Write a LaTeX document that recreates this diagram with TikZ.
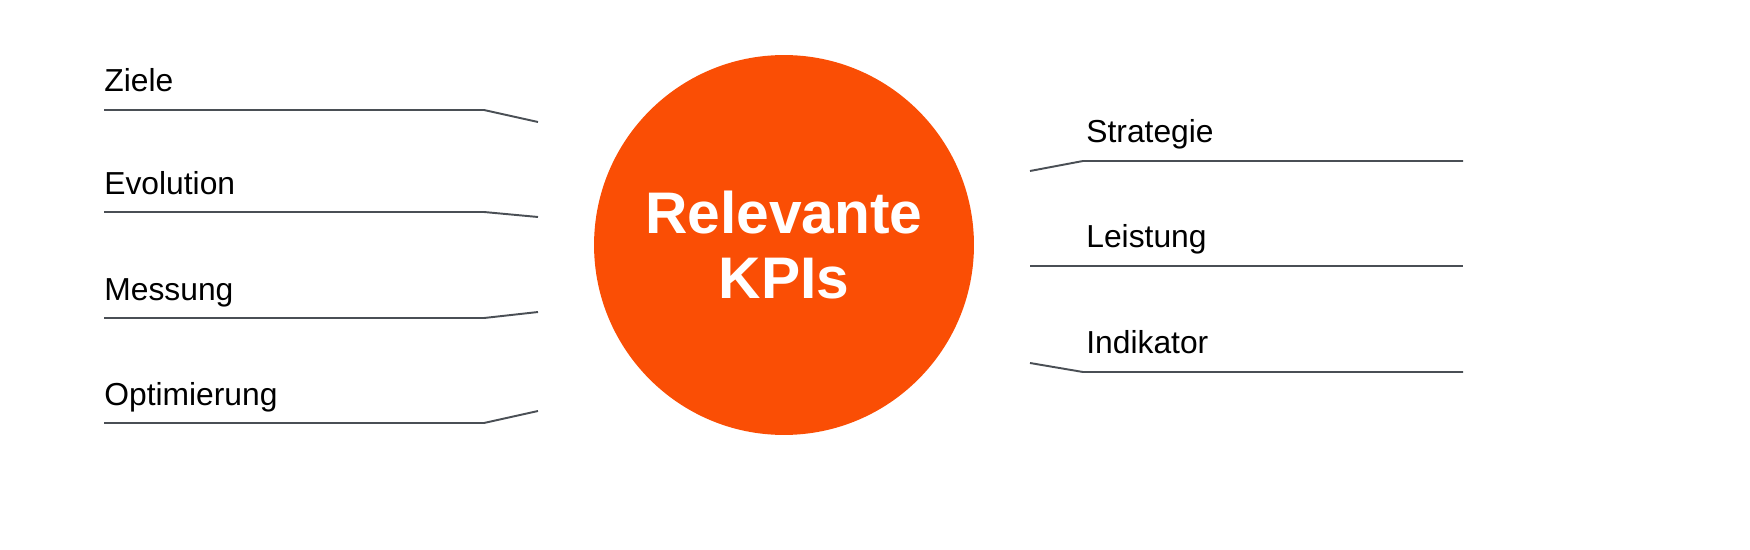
\documentclass[tikz,border=0pt]{standalone}
\usepackage{fontspec}
\setmainfont{Liberation Sans}
\definecolor{kpiorange}{HTML}{FA4E05}
\definecolor{kpiline}{HTML}{4A4F55}

\begin{document}
\begin{tikzpicture}
  [x=0.02cm,y=-0.02cm,
   lbl/.style={anchor=base west,inner sep=0pt,font=\fontsize{18.1}{21}\selectfont},
   ln/.style={draw=kpiline,line width=1.1pt},
   kpi/.style={circle,fill=kpiorange,minimum size=7.6cm,inner sep=0pt,text=white,align=center,
     font=\fontsize{33.4}{36.9}\selectfont\bfseries}]
  \useasboundingbox (0,0) rectangle (1750,550);

  \node[kpi] (c) at (784,245) {Relevante\\KPIs};

  % left side
  \node[lbl] (n1) at (104,92)  {Ziele};
  \node[lbl] (n2) at (104,195) {Evolution};
  \node[lbl] (n3) at (104,300) {Messung};
  \node[lbl] (n4) at (104,405) {Optimierung};
  \coordinate (a1) at (104,110); \coordinate (k1) at (484,110); \coordinate (e1) at (538,122);
  \coordinate (a2) at (104,212); \coordinate (k2) at (484,212); \coordinate (e2) at (538,217);
  \coordinate (a3) at (104,318); \coordinate (k3) at (484,318); \coordinate (e3) at (538,312);
  \coordinate (a4) at (104,423); \coordinate (k4) at (484,423); \coordinate (e4) at (538,411);
  \draw[ln] (a1) -- (k1) -- (e1);
  \draw[ln] (a2) -- (k2) -- (e2);
  \draw[ln] (a3) -- (k3) -- (e3);
  \draw[ln] (a4) -- (k4) -- (e4);

  % right side
  \node[lbl] (n5) at (1086,143) {Strategie};
  \node[lbl] (n6) at (1086,248) {Leistung};
  \node[lbl] (n7) at (1086,354) {Indikator};
  \coordinate (s5) at (1030,171); \coordinate (k5) at (1083,161); \coordinate (b5) at (1463,161);
  \coordinate (s6) at (1030,266); \coordinate (k6) at (1083,266); \coordinate (b6) at (1463,266);
  \coordinate (s7) at (1030,363); \coordinate (k7) at (1083,372); \coordinate (b7) at (1463,372);
  \draw[ln] (s5) -- (k5) -- (b5);
  \draw[ln] (s6) -- (k6) -- (b6);
  \draw[ln] (s7) -- (k7) -- (b7);
\end{tikzpicture}
\end{document}
